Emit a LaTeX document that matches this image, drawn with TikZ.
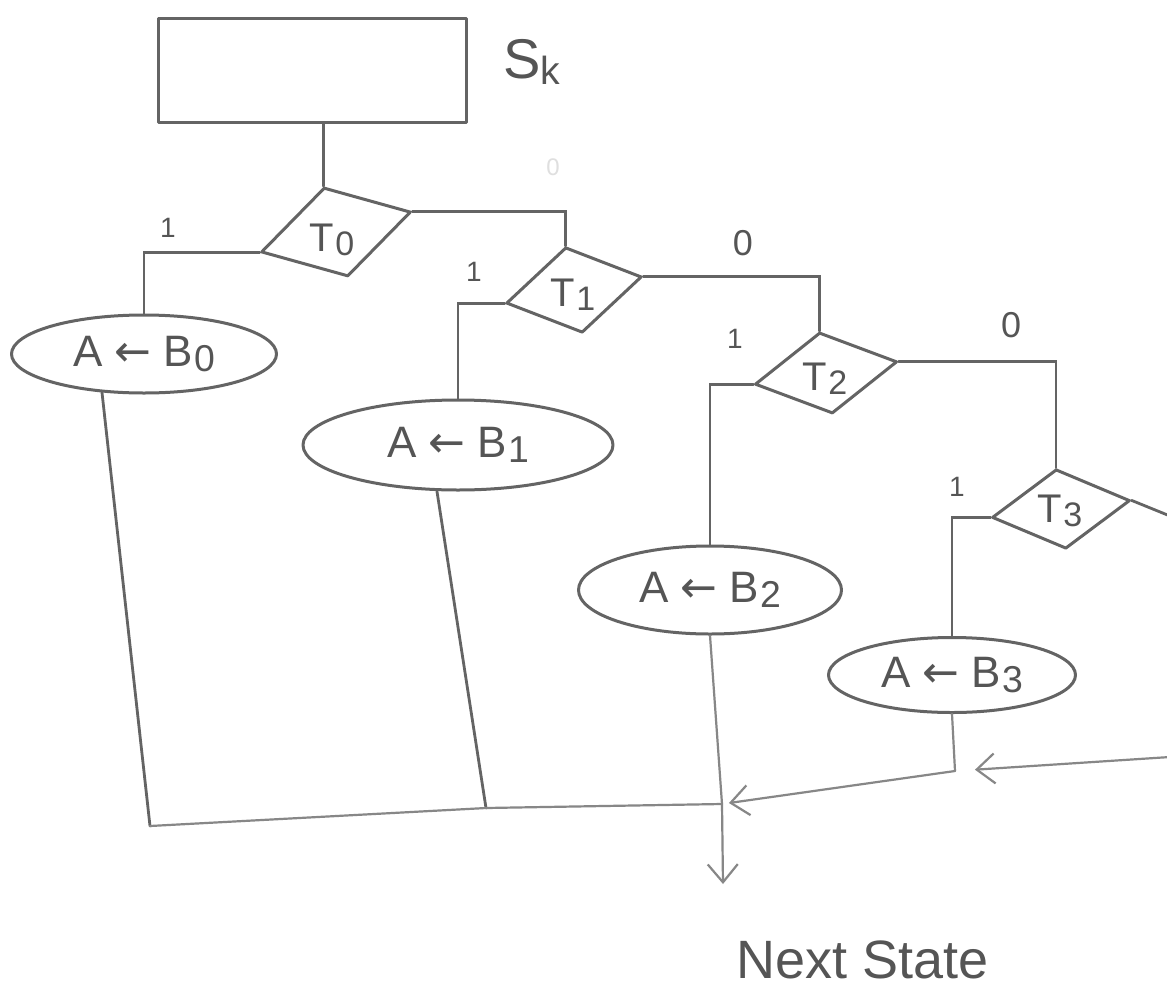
\documentclass[tikz,border=0pt]{standalone}
\usepackage{fontspec}
\setmainfont{Liberation Sans}
\newfontfamily\arrowfont{DejaVu Sans}
\usetikzlibrary{shapes.geometric,arrows.meta,calc}
\definecolor{pencil}{RGB}{100,100,100}
\definecolor{pencillight}{RGB}{135,135,135}
\definecolor{lead}{RGB}{85,85,85}
% lowered index digit (T0, B1, ...)
\newcommand\ix[1]{\kern1pt\raisebox{-0.1em}{\scalebox{0.85}{#1}}}
% register-transfer arrow
\newcommand\getsarrow{ {\arrowfont ←} }
\begin{document}
\begin{tikzpicture}[x=1pt,y=-1pt,
  stroke/.style={draw=pencil,line width=3pt,line join=round,line cap=round},
  statebox/.style={stroke,rectangle,minimum width=308pt,minimum height=104pt,inner sep=0pt},
  decision/.style={stroke,diamond,inner sep=0pt},
  action/.style={stroke,ellipse,inner sep=0pt,text=lead,font=\fontsize{44}{48}\selectfont},
  wire/.style={draw=pencil,line width=2.8pt,line cap=round},
  thinwire/.style={draw=pencillight,line width=2.2pt,line cap=round},
  tip/.style={-{Straight Barb[length=18pt,width=30pt]}},
  cond/.style={text=lead,font=\fontsize{40}{44}\selectfont},
  bit/.style={text=lead,font=\fontsize{28}{30}\selectfont},
  zero/.style={text=lead,font=\fontsize{36}{38}\selectfont},
]
\fill[white] (0,0) rectangle (1167,1001);
\useasboundingbox (0,0) rectangle (1167,1001);

% state box
\node[statebox] (sk) at (312,70) {};
\node[text=lead,font=\fontsize{56}{60}\selectfont] (sklabel) at (532,62)
  {S\raisebox{-0.12em}{\scalebox{0.7}{k}}};

% decision boxes
\node[decision,minimum width=155pt,minimum height=92pt,rotate=15] (t0) at (336,232) {};
\node[cond] (t0txt) at (332,240) {T\ix{0}};
\node[decision,minimum width=138pt,minimum height=87pt,rotate=11] (t1) at (574,290) {};
\node[cond] (t1txt) at (573,295) {T\ix{1}};
\node[decision,minimum width=144pt,minimum height=82pt,rotate=9] (t2) at (826,373) {};
\node[cond] (t2txt) at (825,379) {T\ix{2}};
\node[decision,minimum width=139pt,minimum height=80pt,rotate=7] (t3) at (1061,509) {};
\node[cond] (t3txt) at (1060,511) {T\ix{3}};

% conditional outputs
\node[action,minimum width=265pt,minimum height=78pt] (b0) at (144,354) {A\getsarrow B\ix{0}};
\node[action,minimum width=310pt,minimum height=90pt] (b1) at (458,445) {A\getsarrow B\ix{1}};
\node[action,minimum width=263pt,minimum height=88pt] (b2) at (710,590) {A\getsarrow B\ix{2}};
\node[action,minimum width=247pt,minimum height=75pt] (b3) at (952,675) {A\getsarrow B\ix{3}};

% branch labels
\node[bit] (l0) at (168,228) {1};
\node[text=gray!25,font=\fontsize{24}{26}\selectfont] (z0) at (553,167) {0};
\node[bit] (l1) at (474,272) {1};
\node[zero] (z1) at (743,243) {0};
\node[bit] (l2) at (735,339) {1};
\node[zero] (z2) at (1011,325) {0};
\node[bit] (l3) at (957,487) {1};

% junction points
\coordinate (edgeA) at (1170,516);
\coordinate (edgeB) at (1170,757);
\coordinate (j0) at (150,826);
\coordinate (j1) at (486,808);
\coordinate (jn) at (722,804);
\coordinate (j3) at (955,771);
\coordinate (exit) at (723,884);

% decision chain
\draw[wire] (t0.north |- sk.south) -- (t0.north);
\draw[wire] (t0.west) -| (b0.north);
\draw[wire] (t0.east) -| (t1.north);
\draw[wire] (t1.west) -| (b1.north);
\draw[wire] (t1.east) -| (t2.north);
\draw[wire] (t2.west) -| (b2.north);
\draw[wire] (t2.east) -| (t3.north);
\draw[wire] (t3.west) -| (b3.north);
\draw[wire] (t3.east) -- (edgeA);

% merge into next state
\draw[wire] ($(b0.south)+(-42,-2)$) -- (j0);
\draw[wire] ($(b1.south)+(-21,0)$) -- (j1);
\draw[thinwire] (j0) -- (j1) -- (jn);
\draw[thinwire,tip] (b2.south) -- (jn) -- (exit);
\draw[thinwire] (b3.south) -- (j3);
\draw[thinwire,tip,shorten >=7pt] (j3) -- (jn);
\draw[thinwire,tip,shorten >=20pt] (edgeB) -- (j3);

\node[text=lead,font=\fontsize{54}{58}\selectfont] (next) at (863,960) {Next State};
\end{tikzpicture}
\end{document}
